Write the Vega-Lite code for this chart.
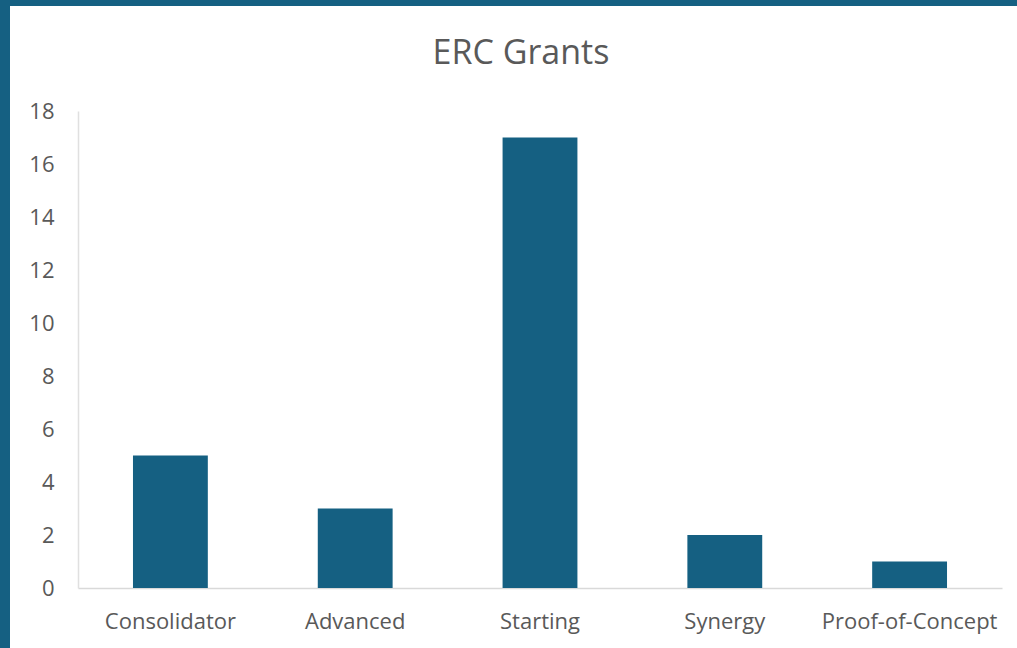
{
  "$schema": "https://vega.github.io/schema/vega-lite/v6.json",
  "autosize": {"type": "none"},
  "width": 924,
  "height": 514,
  "padding": {"left": 78, "top": 74, "right": 15, "bottom": 60},
  "background": "#156082",
  "config": {
    "view": {"fill": "#ffffff", "stroke": "#ffffff", "strokeWidth": 136},
    "font": "Open Sans"
  },
  "title": {
    "text": "ERC Grants",
    "font": "Open Sans",
    "fontSize": 34,
    "fontWeight": "normal",
    "color": "#595959",
    "anchor": "middle",
    "baseline": "alphabetic",
    "offset": 11,
    "dx": -19,
    "dy": 35
  },
  "data": {
    "values": [
      {"type": "Consolidator", "count": 5},
      {"type": "Advanced", "count": 3},
      {"type": "Starting", "count": 17},
      {"type": "Synergy", "count": 2},
      {"type": "Proof-of-Concept", "count": 1}
    ]
  },
  "mark": {"type": "bar", "color": "#156082"},
  "encoding": {
    "x": {
      "field": "type",
      "type": "nominal",
      "sort": null,
      "title": null,
      "scale": {"paddingInner": 0.595, "paddingOuter": 0.2975},
      "axis": {
        "labelAngle": 0,
        "labelFont": "Open Sans",
        "labelFontSize": 22,
        "labelColor": "#595959",
        "labelPadding": 23,
        "ticks": false,
        "tickSize": 0,
        "domainColor": "#D9D9D9",
        "domainWidth": 1.5,
        "grid": false
      }
    },
    "y": {
      "field": "count",
      "type": "quantitative",
      "title": null,
      "scale": {"domain": [0, 19.4], "nice": false},
      "axis": {
        "values": [0, 2, 4, 6, 8, 10, 12, 14, 16, 18],
        "labelFont": "Open Sans",
        "labelFontSize": 22,
        "labelColor": "#595959",
        "labelPadding": 24,
        "ticks": false,
        "tickSize": 0,
        "grid": false,
        "domainColor": "#E0E0E0",
        "domainWidth": 1.5,
        "domainDash": [477, 1000]
      }
    }
  }
}
